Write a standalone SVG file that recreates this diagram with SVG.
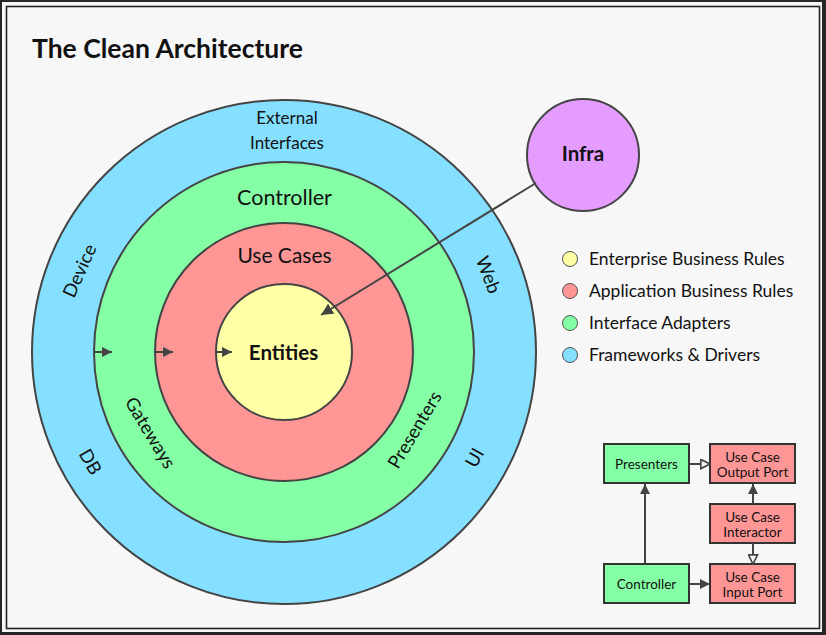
<svg xmlns="http://www.w3.org/2000/svg" width="826" height="635" viewBox="0 0 826 635">
<style>
.t{font-family:Lato,"Liberation Sans",sans-serif;fill:#111}
.c{text-anchor:middle}
.ring{stroke:#444;stroke-width:2}
.conn{stroke:#444;stroke-width:2;fill:none}
.box{stroke:#333;stroke-width:2}
.blue{fill:#85e0ff}
.green{fill:#85ffa6}
.red{fill:#ff9696}
.yellow{fill:#ffffa6}
.purple{fill:#e49cff}
.lbl{font-size:18.5px}
.sm{font-size:13.5px}
.lg{font-size:17.5px}
</style>
<defs>
<marker id="arr" viewBox="0 0 10 10" refX="10" refY="5" markerWidth="10" markerHeight="10" markerUnits="userSpaceOnUse" orient="auto">
<path d="M0,0 L10,5 L0,10 z" fill="#444"/>
</marker>
<marker id="arrBig" viewBox="0 0 10 10" refX="10" refY="5" markerWidth="12" markerHeight="12" markerUnits="userSpaceOnUse" orient="auto">
<path d="M0,0 L10,5 L0,10 z" fill="#444"/>
</marker>
<marker id="hollow" viewBox="0 0 12 12" refX="11" refY="6" markerWidth="11" markerHeight="11" markerUnits="userSpaceOnUse" orient="auto">
<path d="M1,1 L11,6 L1,11 z" fill="#f7f7f7" stroke="#444" stroke-width="1.8"/>
</marker>
</defs>

<rect x="0" y="0" width="826" height="635" fill="#262626"/>
<rect x="2" y="2" width="820" height="630" fill="#f7f7f7"/>
<rect x="6.5" y="6.5" width="813" height="622" fill="none" stroke="#222" stroke-width="1.6"/>

<text class="t" x="32" y="58" font-size="26.5" font-weight="bold">The Clean Architecture</text>

<g id="frameworks">
<circle class="ring blue" cx="284" cy="352" r="252"/>
<text class="t c" x="287" y="124" font-size="17">External</text>
<text class="t c" x="287" y="149" font-size="17">Interfaces</text>
<text class="t c lbl" transform="translate(80,271) rotate(-66)" dy="6">Device</text>
<text class="t c lbl" transform="translate(90,462) rotate(60)" dy="6">DB</text>
<text class="t c lbl" transform="translate(488,275) rotate(69)" dy="6">Web</text>
<text class="t c lbl" transform="translate(475,458) rotate(-61)" dy="6">UI</text>
</g>

<g id="adapters">
<circle class="ring green" cx="284" cy="352" r="190"/>
<text class="t c" x="284.5" y="205" font-size="21.5">Controller</text>
<text class="t c lbl" transform="translate(150,433) rotate(59)" dy="6">Gateways</text>
<text class="t c lbl" transform="translate(415,430) rotate(-59)" dy="6">Presenters</text>
</g>

<g id="usecases">
<circle class="ring red" cx="284" cy="352" r="129"/>
<text class="t c" x="284.5" y="263" font-size="21">Use Cases</text>
</g>

<g id="entities">
<circle class="ring yellow" cx="284" cy="352" r="68"/>
<text class="t c" x="283.5" y="360" font-size="20.5" font-weight="bold">Entities</text>
</g>

<g id="infra">
<circle class="ring purple" cx="583" cy="155" r="56"/>
<text class="t c" x="583" y="161" font-size="20.5" font-weight="bold">Infra</text>
</g>

<g id="legend">
<circle cx="570" cy="259" r="7.5" class="yellow" stroke="#555" stroke-width="1"/>
<text class="t lg" x="589" y="265">Enterprise Business Rules</text>
<circle cx="570" cy="291" r="7.5" class="red" stroke="#555" stroke-width="1"/>
<text class="t lg" x="589" y="297">Application Business Rules</text>
<circle cx="570" cy="323" r="7.5" class="green" stroke="#555" stroke-width="1"/>
<text class="t lg" x="589" y="329">Interface Adapters</text>
<circle cx="570" cy="355" r="7.5" class="blue" stroke="#555" stroke-width="1"/>
<text class="t lg" x="589" y="361">Frameworks &amp; Drivers</text>
</g>

<g id="box-presenters">
<rect class="box green" x="604" y="444" width="85" height="39"/>
<text class="t c sm" x="646.5" y="469">Presenters</text>
</g>
<g id="box-output-port">
<rect class="box red" x="710" y="444" width="85" height="39"/>
<text class="t c sm" x="752.5" y="461.5">Use Case</text>
<text class="t c sm" x="752.5" y="476.5">Output Port</text>
</g>
<g id="box-interactor">
<rect class="box red" x="710" y="504" width="85" height="39"/>
<text class="t c sm" x="752.5" y="521.5">Use Case</text>
<text class="t c sm" x="752.5" y="536.5">Interactor</text>
</g>
<g id="box-input-port">
<rect class="box red" x="710" y="564" width="85" height="39"/>
<text class="t c sm" x="752.5" y="581.5">Use Case</text>
<text class="t c sm" x="752.5" y="596.5">Input Port</text>
</g>
<g id="box-controller">
<rect class="box green" x="604" y="564" width="85" height="39"/>
<text class="t c sm" x="646.5" y="589">Controller</text>
</g>

<g id="connectors">
<line class="conn" x1="94" y1="352" x2="112" y2="352" marker-end="url(#arr)"/>
<line class="conn" x1="155" y1="352" x2="173" y2="352" marker-end="url(#arr)"/>
<line class="conn" x1="216" y1="352" x2="232" y2="352" marker-end="url(#arr)"/>
<line class="conn" x1="536" y1="183" x2="321" y2="315" marker-end="url(#arrBig)"/>
<line class="conn" x1="689" y1="464" x2="710" y2="464" marker-end="url(#hollow)"/>
<line class="conn" x1="689" y1="584" x2="710" y2="584" marker-end="url(#arr)"/>
<line class="conn" x1="645" y1="564" x2="645" y2="484" marker-end="url(#arr)"/>
<line class="conn" x1="753" y1="504" x2="753" y2="484" marker-end="url(#arr)"/>
<line class="conn" x1="753" y1="543" x2="753" y2="564" marker-end="url(#hollow)"/>
</g>
</svg>
